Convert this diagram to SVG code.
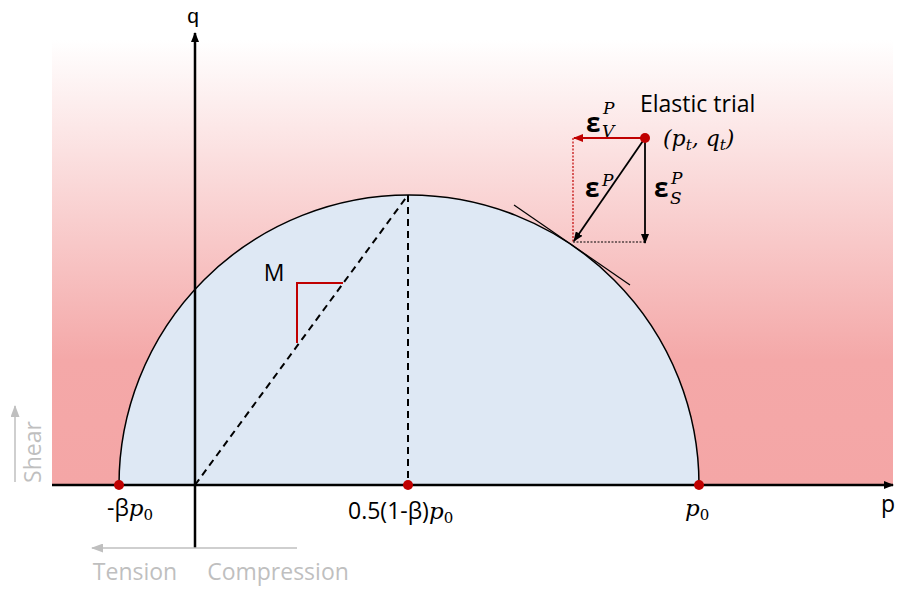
<svg xmlns="http://www.w3.org/2000/svg" width="898" height="592" viewBox="0 0 898 592">
<defs>
<linearGradient id="bg" x1="0" y1="0" x2="0" y2="1">
<stop offset="0" stop-color="#FFFFFF"/>
<stop offset="0.72" stop-color="#F4A8A8"/>
<stop offset="1" stop-color="#F4A6A6"/>
</linearGradient>
<marker id="ab" markerWidth="10" markerHeight="8" refX="9" refY="4" orient="auto" markerUnits="userSpaceOnUse"><path d="M0,0 L10,4 L0,8 Z" fill="#000"/></marker>
<marker id="ar" markerWidth="10" markerHeight="8" refX="9" refY="4" orient="auto" markerUnits="userSpaceOnUse"><path d="M0,0 L10,4 L0,8 Z" fill="#C00000"/></marker>
<marker id="ag" markerWidth="12" markerHeight="9" refX="11" refY="4.5" orient="auto" markerUnits="userSpaceOnUse"><path d="M0,0 L12,4.5 L0,9 Z" fill="#BFBFBF"/></marker>
<style>
.t{font-family:"Open Sans","Liberation Sans",sans-serif;fill:#000;font-size:23px}
.m{font-family:"DejaVu Serif","Liberation Serif",serif;font-style:italic;fill:#000}
.u{font-family:"DejaVu Serif","Liberation Serif",serif;font-style:normal;fill:#000}
.e{font-family:"Open Sans","Liberation Sans",sans-serif;font-weight:bold;font-size:26px;fill:#000}
.s{font-family:"DejaVu Serif","Liberation Serif",serif;font-style:italic;font-size:17px;fill:#000}
.g{font-family:"Open Sans","Liberation Sans",sans-serif;fill:#BFBFBF;font-size:23px}
.dot{fill:#C00000}
</style>
</defs>
<rect x="52" y="40" width="841" height="445" fill="url(#bg)"/>
<g id="yield-surface">
<path d="M119,485 A290,290 0 0 1 699,485 Z" fill="#DEE8F4" stroke="#000" stroke-width="1.5"/>
</g>
<g id="connectors">
<line x1="195" y1="485" x2="408" y2="195" stroke="#000" stroke-width="2" stroke-dasharray="7,5"/>
<line x1="408" y1="195" x2="408" y2="485" stroke="#000" stroke-width="2" stroke-dasharray="7,5"/>
<polyline points="297,343 297,283 343,283" fill="none" stroke="#C00000" stroke-width="2"/>
<line x1="514" y1="205" x2="630" y2="285" stroke="#000" stroke-width="1.2"/>
<line x1="573" y1="138" x2="573" y2="242" stroke="#C00000" stroke-width="1.2" stroke-dasharray="2,1.5"/>
<line x1="573" y1="242" x2="645" y2="242" stroke="#000" stroke-width="1.2" stroke-dasharray="2,1.5"/>
<line x1="645" y1="138" x2="574" y2="138" stroke="#C00000" stroke-width="2" marker-end="url(#ar)"/>
<line x1="645" y1="138" x2="574" y2="241" stroke="#000" stroke-width="1.8" marker-end="url(#ab)"/>
<line x1="645" y1="138" x2="645" y2="243" stroke="#000" stroke-width="1.8" marker-end="url(#ab)"/>
<line x1="52" y1="485" x2="893" y2="485" stroke="#000" stroke-width="2.5" marker-end="url(#ab)"/>
<line x1="195" y1="548" x2="195" y2="33" stroke="#000" stroke-width="2.5" marker-end="url(#ab)"/>
<line x1="15" y1="482" x2="15" y2="406" stroke="#BFBFBF" stroke-width="1.5" marker-end="url(#ag)"/>
<line x1="297" y1="548" x2="92" y2="548" stroke="#BFBFBF" stroke-width="1.5" marker-end="url(#ag)"/>
</g>
<g id="points">
<circle class="dot" cx="119" cy="485" r="5"/>
<circle class="dot" cx="408" cy="485" r="5"/>
<circle class="dot" cx="699" cy="485" r="5"/>
<circle class="dot" cx="645" cy="138" r="5"/>
</g>
<g id="labels">
<text x="193" y="23" font-family="Liberation Sans, sans-serif" font-size="21" text-anchor="middle" fill="#000">q</text>
<text class="t" x="888" y="512" text-anchor="middle">p</text>
<text class="t" x="274" y="281" text-anchor="middle">M</text>
<text class="t" x="640" y="112">Elastic trial</text>
<text class="m" x="663" y="146" font-size="22">(p<tspan font-size="15" dy="4">t</tspan><tspan dy="-4">, q</tspan><tspan font-size="15" dy="4">t</tspan><tspan dy="-4">)</tspan></text>
<text class="e" x="586" y="132">ε</text>
<text class="s" x="603" y="114">P</text>
<text class="s" x="602" y="137">V</text>
<text class="e" x="585" y="197">ε</text>
<text class="s" x="602" y="186">P</text>
<text class="e" x="654" y="197">ε</text>
<text class="s" x="671" y="184">P</text>
<text class="s" x="670" y="204">S</text>
<text class="t" x="107" y="516">-β<tspan class="m" font-size="23">p</tspan><tspan class="u" font-size="15" dy="4">0</tspan></text>
<text class="t" x="348" y="519">0.5(1-β)<tspan class="m" font-size="23">p</tspan><tspan class="u" font-size="15" dy="4">0</tspan></text>
<text class="m" x="685" y="516" font-size="23">p<tspan class="u" font-size="15" dy="4">0</tspan></text>
<text class="g" x="135" y="580" text-anchor="middle">Tension</text>
<text class="g" x="278" y="580" text-anchor="middle">Compression</text>
<text class="g" x="0" y="0" text-anchor="middle" transform="translate(41,452) rotate(-90)">Shear</text>
</g>
</svg>
